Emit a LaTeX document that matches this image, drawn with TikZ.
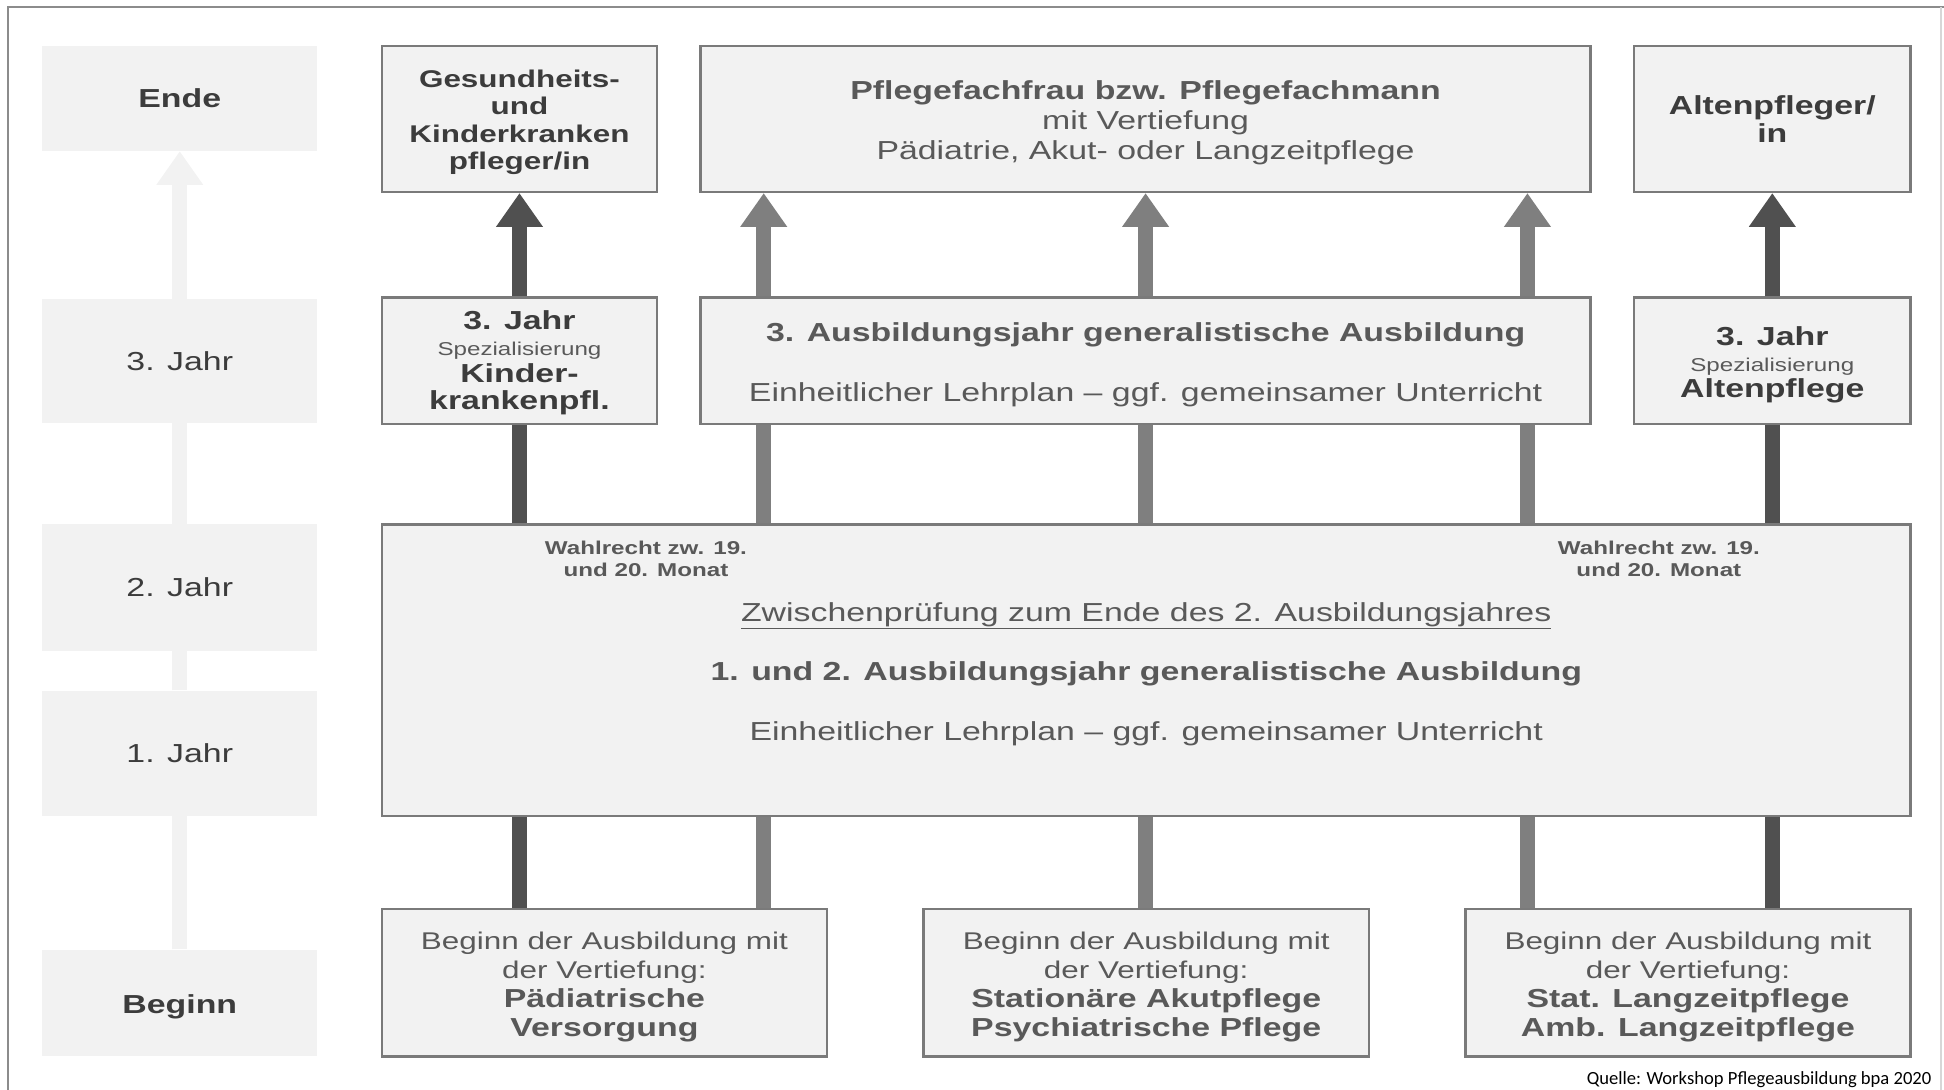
\documentclass[tikz,border=0pt]{standalone}
\usepackage{fontspec}
\setmainfont{Liberation Sans}[FakeStretch=1.3]
\newfontfamily\quellefont{Carlito}
\usepackage{xcolor}
\usetikzlibrary{positioning, arrows.meta}
\definecolor{boxfill}{HTML}{F2F2F2}
\definecolor{boxline}{HTML}{7A7A7A}
\definecolor{txtdark}{HTML}{3C3C3C}
\definecolor{txtmid}{HTML}{595959}
\definecolor{bardark}{HTML}{505050}
\definecolor{barmid}{HTML}{7F7F7F}
\definecolor{rahmen}{HTML}{8C8C8C}
\newcommand{\oben}[1]{\rule{0pt}{#1}} % schiebt den Text etwas nach unten
\tikzset{
    box/.style={draw=boxline, line width=2pt, fill=boxfill, inner sep=0pt, align=center}, % Kasten mit Rand
    jahr/.style={fill=boxfill, inner sep=0pt, minimum width=222pt, text=txtdark, font=\fontsize{21}{24}\selectfont}, % Kasten links
    fett/.style={font=\fontsize{21}{24}\selectfont\bfseries},
    hinweis/.style={align=center, text=txtmid, font=\fontsize{15}{18}\selectfont\bfseries},
    saeule/.style={line width=12pt, color=#1}, % Pfeilsaeule
    spitze/.style={-{Triangle[width=38pt,length=27pt,line width=0pt]}},
}

\begin{document}
\begin{tikzpicture}[x=1pt, y=-1pt, on grid]
    \useasboundingbox (0,0) rectangle (1568,879);
    \draw[rahmen, line width=2pt] (6.5,879) -- (6.5,5.5) -- (1568,5.5);
    \draw[rahmen!35, line width=1pt] (1565.5,5.5) -- (1565.5,879);

    % Spalte links
    \node[jahr, fett, minimum height=85pt] (ende) at (145,79.5) {Ende};
    \node[jahr, minimum height=100pt] (lj3) [below=211.5pt of ende] {3. Jahr};
    \node[jahr, minimum height=102pt] (lj2) [below=183pt of lj3] {2. Jahr};
    \node[jahr, minimum height=101pt] (lj1) [below=133.5pt of lj2] {1. Jahr};
    \node[jahr, fett, minimum height=86pt] (beg) [below=201.5pt of lj1] {\oben{21.3pt}Beginn};
    \path[saeule=boxfill]
        (beg.north) edge (lj1.south)
        (lj1.north) edge (lj2.south)
        (lj2.north) edge (lj3.south)
        (lj3.north) edge[spitze] (ende.south);

    % Abschluss
    \node[box, minimum width=222pt, minimum height=118pt, text=txtdark,
          font=\fontsize{19.5}{22}\selectfont\bfseries] (ges) at (419,96)
          {\oben{19.2pt}Gesundheits-\\und\\Kinderkranken\\pfleger/in};
    \node[box, minimum width=718pt, minimum height=118pt, text=txtmid,
          font=\fontsize{21}{24.5}\selectfont] (pff) [right=505pt of ges]
          {\oben{21.3pt}\textbf{Pflegefachfrau bzw. Pflegefachmann}\\mit Vertiefung\\Pädiatrie, Akut- oder Langzeitpflege};
    \node[box, minimum width=223pt, minimum height=118pt, text=txtdark,
          font=\fontsize{21}{22}\selectfont\bfseries] (alt) [right=505.5pt of pff]
          {Altenpfleger/\\in};

    % 3. Jahr
    \node[box, minimum width=222pt, minimum height=102pt, text=txtdark,
          font=\fontsize{21}{21.5}\selectfont\bfseries] (kin) [below=195pt of ges]
          {\oben{18pt}3. Jahr\\{\fontsize{15}{21.5}\selectfont\mdseries\color{txtmid}Spezialisierung}\\Kinder-\\krankenpfl.};
    \node[box, minimum width=718pt, minimum height=102pt, text=txtmid,
          font=\fontsize{21}{48}\selectfont] (aj3) [right=505pt of kin]
          {\oben{21.3pt}\textbf{3. Ausbildungsjahr generalistische Ausbildung}\\Einheitlicher Lehrplan – ggf. gemeinsamer Unterricht};
    \node[box, minimum width=223pt, minimum height=102pt, text=txtdark,
          font=\fontsize{21}{21}\selectfont\bfseries] (altj) [right=505.5pt of aj3]
          {\oben{22.3pt}3. Jahr\\{\fontsize{15}{21}\selectfont\mdseries\color{txtmid}Spezialisierung}\\Altenpflege};

    % 1. und 2. Jahr
    \node[box, minimum width=1233pt, minimum height=235pt, text=txtmid,
          font=\fontsize{21}{48}\selectfont] (big) at (924.5,540.5)
          {\oben{21.3pt}\underline{Zwischenprüfung zum Ende des 2. Ausbildungsjahres}\\\textbf{1. und 2. Ausbildungsjahr generalistische Ausbildung}\\Einheitlicher Lehrplan – ggf. gemeinsamer Unterricht};
    \node[hinweis] (wr1) at (521,451) {Wahlrecht zw. 19.\\und 20. Monat};
    \node[hinweis] (wr2) at (1338,451) {Wahlrecht zw. 19.\\und 20. Monat};

    % Beginn
    \node[box, minimum width=359pt, minimum height=119pt, text=txtmid,
          font=\fontsize{19.5}{23.5}\selectfont] (b2) at (924.5,792.5)
          {\oben{21.2pt}Beginn der Ausbildung mit\\der Vertiefung:\\{\fontsize{21}{23.5}\selectfont\bfseries Stationäre Akutpflege}\\{\fontsize{21}{23.5}\selectfont\bfseries Psychiatrische Pflege}};
    \node[box, minimum width=359pt, minimum height=119pt, text=txtmid,
          font=\fontsize{19.5}{23.5}\selectfont] (b1) [left=437pt of b2]
          {\oben{21.2pt}Beginn der Ausbildung mit\\der Vertiefung:\\{\fontsize{21}{23.5}\selectfont\bfseries Pädiatrische}\\{\fontsize{21}{23.5}\selectfont\bfseries Versorgung}};
    \node[box, minimum width=359pt, minimum height=119pt, text=txtmid,
          font=\fontsize{19.5}{23.5}\selectfont] (b3) [right=437pt of b2]
          {\oben{21.2pt}Beginn der Ausbildung mit\\der Vertiefung:\\{\fontsize{21}{23.5}\selectfont\bfseries Stat. Langzeitpflege}\\{\fontsize{21}{23.5}\selectfont\bfseries Amb. Langzeitpflege}};

    \node[anchor=base east, inner sep=0pt, font=\quellefont\fontsize{15}{18}\selectfont] (quelle) at (1558,875)
          {Quelle: Workshop Pflegeausbildung bpa 2020};

    % Frecce
    \coordinate[left=308pt of pff] (k2);
    \coordinate[right=308pt of pff] (k4);
    \path[saeule=bardark]
        (b1.north -| ges) edge (big.south -| ges)
        (big.north -| ges) edge (kin.south -| ges)
        (kin.north -| ges) edge[spitze] (ges.south -| ges);
    \path[saeule=barmid]
        (b1.north -| k2) edge (big.south -| k2)
        (big.north -| k2) edge (aj3.south -| k2)
        (aj3.north -| k2) edge[spitze] (pff.south -| k2);
    \path[saeule=barmid]
        (b2.north -| pff) edge (big.south -| pff)
        (big.north -| pff) edge (aj3.south -| pff)
        (aj3.north -| pff) edge[spitze] (pff.south -| pff);
    \path[saeule=barmid]
        (b3.north -| k4) edge (big.south -| k4)
        (big.north -| k4) edge (aj3.south -| k4)
        (aj3.north -| k4) edge[spitze] (pff.south -| k4);
    \path[saeule=bardark]
        (b3.north -| alt) edge (big.south -| alt)
        (big.north -| alt) edge (altj.south -| alt)
        (altj.north -| alt) edge[spitze] (alt.south -| alt);
\end{tikzpicture}
\end{document}
